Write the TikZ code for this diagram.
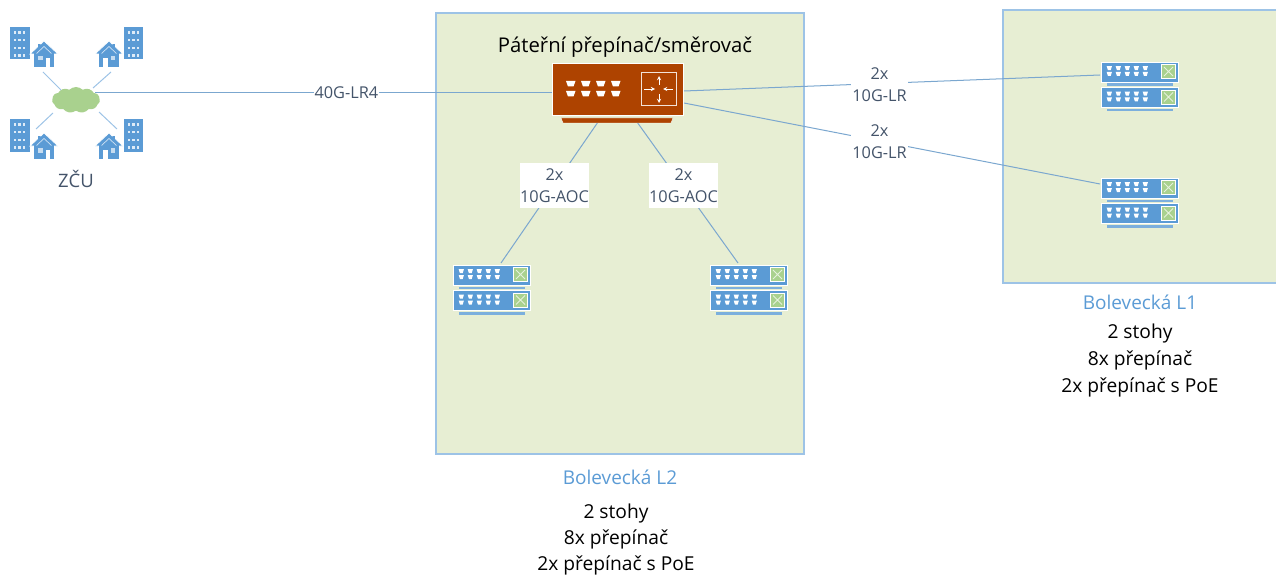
\documentclass[tikz,border=0pt]{standalone}
\usepackage{fontspec}
\setmainfont{Open Sans}
\usetikzlibrary{positioning,shapes.symbols}

\definecolor{zone}{HTML}{E7EED3}
\definecolor{zoneline}{HTML}{9DC3E6}
\definecolor{netblue}{HTML}{5B9BD5}
\definecolor{netgreen}{HTML}{A9D18E}
\definecolor{netcore}{HTML}{AE4300}
\definecolor{slate}{HTML}{44546A}
\definecolor{wire}{HTML}{7BA7CF}

\tikzset{
  zonebox/.style={draw=zoneline,line width=1.2pt,fill=zone},
  link/.style={draw=wire,line width=1pt},
  lbl/.style={fill=white,text=slate,inner sep=1pt,align=center,font=\fontsize{16.3}{22}\selectfont},
  title/.style={text=netblue,font=\fontsize{19}{22}\selectfont},
  info/.style={align=center,font=\fontsize{19.2}{26}\selectfont},
  % one switch with its foot, origin at top left
  swunit/.pic={
    \fill [netblue,draw=white,line width=.8pt] (0,0) rectangle (77,20);
    \foreach \i in {0,...,4} \foreach \j in {4.2,10} {
      \fill [white] (5.7+9*\i,\j) -- ++(5.2,0) -- ++(-1.2,4) -- ++(-2.8,0) -- cycle;
    }
    \fill [netgreen,draw=white,line width=.8pt] (60.5,2.5) rectangle (74.5,16.5);
    \draw [white!70!netgreen,line width=.9pt] (63,5) -- (72,14) (72,5) -- (63,14);
    \fill [netblue!80] (5.5,21.5) rectangle (72,24);
  },
  % stack of two switches
  swstack/.pic={
    \pic at (0,0) {swunit};
    \pic at (0,25.5) {swunit};
  },
  % building and a house, origin at top left of the building
  estate/.pic={
    \fill [netblue] (0,0) rectangle (19.5,32.5);
    \foreach \i in {0,1,2} \foreach \j in {0,1,2,3} {
      \fill [white!80!netblue] (3.6+4.7*\i,4+7.8*\j) rectangle ++(2.4,2.6);
    }
    \fill [netblue,draw=white,line width=.7pt] (20,27) -- (27.5,20) -- (27.5,16.5) -- (31,16.5) -- (31,17)
      -- (34,14) -- (48,27) -- (44.5,27) -- (44.5,40.5) -- (23.5,40.5) -- (23.5,27) -- cycle;
    \draw [white!70!netblue,line width=.7pt] (26.5,26.5) -- (34,19.5) -- (41.5,26.5);
    \fill [white] (35.5,31) rectangle (40,40.5);
    \fill [white!65!netblue] (28,29) rectangle ++(4.5,4.5);
  },
}

\begin{document}
\begin{tikzpicture}[x=1pt,y=-1pt]
  \useasboundingbox (0,0) rectangle (1276,575);

  % Zones
  \node [coordinate] (l2a) at (436,13) {};
  \node [coordinate] (l2b) at (804,454) {};
  \node [coordinate] (l1a) at (1003,10) {};
  \node [coordinate] (l1b) at (1278,283) {};
  \draw [zonebox] (l2a) rectangle (l2b);
  \draw [zonebox] (l1a) rectangle (l1b);

  % Campus
  \node [cloud,cloud puffs=11,cloud puff arc=90,aspect=2,fill=netgreen,inner sep=0pt,
    minimum width=48pt,minimum height=26pt] (zcu) at (76,100) {};
  \pic at (10,27) {estate};
  \pic at (143,27) [xscale=-1] {estate};
  \pic at (10,119) {estate};
  \pic at (143,119) [xscale=-1] {estate};
  \node [coordinate] (c1) at (43,72) {};
  \node [coordinate] (c2) at (61,90) {};
  \node [coordinate] (c3) at (111,72) {};
  \node [coordinate] (c4) at (93,88) {};
  \node [coordinate] (c5) at (36,129) {};
  \node [coordinate] (c6) at (53,113) {};
  \node [coordinate] (c7) at (117,129) {};
  \node [coordinate] (c8) at (99,112) {};
  \draw [link,draw=zoneline] (c1) -- (c2);
  \draw [link,draw=zoneline] (c3) -- (c4);
  \draw [link,draw=zoneline] (c5) -- (c6);
  \draw [link,draw=zoneline] (c7) -- (c8);
  \node [text=slate,font=\fontsize{18.5}{22}\selectfont] (zculbl) at (76,179) {ZČU};

  % Link 1
  \node [coordinate] (a1) at (95,93) {};
  \node [coordinate] (b1) at (552,93) {};
  \draw [link] (a1) -- node [lbl,pos=0.55] (t1) {40G-LR4} (b1);

  % Link 2
  \node [coordinate] (a2) at (684,91) {};
  \node [coordinate] (b2) at (1100,75) {};
  \draw [link] (a2) -- node [lbl,pos=0.47,yshift=-1pt] (t2) {2x\\10G-LR} (b2);

  % Link 3
  \node [coordinate] (a3) at (684,103) {};
  \node [coordinate] (b3) at (1100,184) {};
  \draw [link] (a3) -- node [lbl,pos=0.47,yshift=-1pt] (t3) {2x\\10G-LR} (b3);

  % Link 4
  \node [coordinate] (a4) at (598,122) {};
  \node [coordinate] (b4) at (501,263) {};
  \draw [link] (a4) -- (b4);
  \node [lbl,minimum width=69pt,minimum height=45pt,inner sep=0pt] (t4) at (554.5,185.5) {2x\\10G-AOC};

  % Link 5
  \node [coordinate] (a5) at (637,122) {};
  \node [coordinate] (b5) at (738,263) {};
  \draw [link] (a5) -- (b5);
  \node [lbl,minimum width=69pt,minimum height=45pt,inner sep=0pt] (t5) at (683.5,185.5) {2x\\10G-AOC};

  % Backbone switch
  \node [inner sep=0pt,minimum width=131pt,minimum height=52pt,fill=netcore,draw=white,line width=.6pt] (core) at (617.5,89) {};
  \fill [netcore,draw=white,line width=.4pt] (561,118) -- (673,118) -- (671,123) -- (563,123) -- cycle;
  \foreach \i in {0,1,2,3} \foreach \j in {81,91} {
    \fill [white] (566+15*\i,\j) -- ++(9.5,0) -- ++(-2,5.5) -- ++(-5.5,0) -- cycle;
  }
  \draw [white!85!netcore,line width=1pt] (641.5,73) rectangle (676,106);
  \draw [white,line width=.9pt,-stealth] (659,85) -- (659,76);
  \draw [white,line width=.9pt,-stealth] (659,94) -- (659,103);
  \draw [white,line width=.9pt,-stealth] (644,89) -- (655,89);
  \draw [white,line width=.9pt,-stealth] (673,89) -- (663,89);
  \node [font=\fontsize{20.3}{24}\selectfont] (corelbl) at (625,47) {Páteřní přepínač/směrovač};

  % Stacks
  \pic at (453,265) {swstack};
  \pic at (710,265) {swstack};
  \pic at (1101,62) {swstack};
  \pic at (1101,178) {swstack};

  % Texts
  \node [title] (l2lbl) at (620,477) {Bolevecká L2};
  \node [info] (l2info) at (616,540) {2 stohy\\8x přepínač\\2x přepínač s PoE};
  \node [title] (l1lbl) at (1140,302) {Bolevecká L1};
  \node [info,font=\fontsize{19.2}{27}\selectfont] (l1info) at (1140,361) {2 stohy\\8x přepínač\\2x přepínač s PoE};

\end{tikzpicture}
\end{document}
